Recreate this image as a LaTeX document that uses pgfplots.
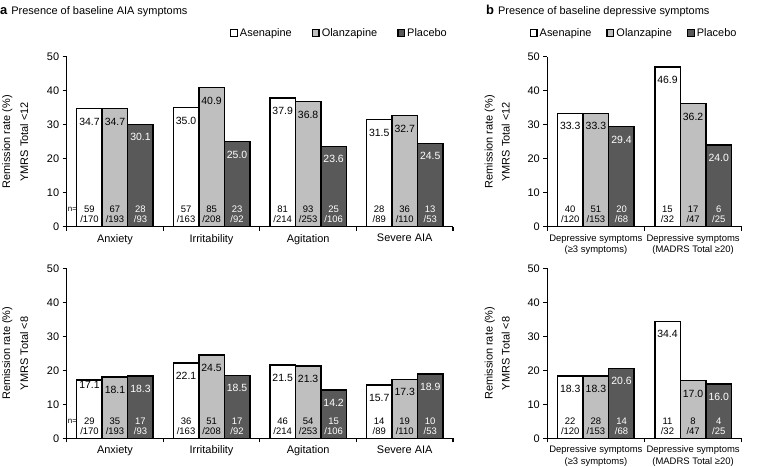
\documentclass[border=0pt]{standalone}
\usepackage{fontspec}
\setmainfont{Liberation Sans}
\usepackage{pgfplots}
\usepackage{pgfplotstable}
\pgfplotsset{compat=1.18}

\definecolor{olz}{HTML}{BFBFBF}
\definecolor{plc}{HTML}{595959}

% x = category, a/o/p = remission rate (%), an/ad etc = n / N
\pgfplotstableread{
x a o p an ad on od pn pd
0 34.7 34.7 30.1 59 170 67 193 28 93
1 35.0 40.9 25.0 57 163 85 208 23 92
2 37.9 36.8 23.6 81 214 93 253 25 106
3 31.5 32.7 24.5 28 89 36 110 13 53
}\tabTL
\pgfplotstableread{
x a o p an ad on od pn pd ao
0 17.1 18.1 18.3 29 170 35 193 17 93 2.5
1 22.1 24.5 18.5 36 163 51 208 17 92 0
2 21.5 21.3 14.2 46 214 54 253 15 106 0
3 15.7 17.3 18.9 14 89 19 110 10 53 0
}\tabBL
\pgfplotstableread{
x a o p an ad on od pn pd
0 33.3 33.3 29.4 40 120 51 153 20 68
1 46.9 36.2 24.0 15 32 17 47 6 25
}\tabTR
\pgfplotstableread{
x a o p an ad on od pn pd
0 18.3 18.3 20.6 22 120 28 153 14 68
1 34.4 17.0 16.0 11 32 8 47 4 25
}\tabBR

\pgfplotsset{
  /pgf/number format/assume math mode=true,
  panel/.style={
    scale only axis, height=170bp,
    ymin=0, ymax=50, ytick={0,10,20,30,40,50},
    xmin=-0.5,
    axis x line*=bottom, axis y line*=left,
    axis line style={-, line width=1.3bp},
    tick align=outside, major tick length=4bp, minor tick length=4bp,
    every tick/.style={black, line width=1.1bp},
    major x tick style={draw=none},
    tick label style={font=\fontsize{11}{13}\selectfont},
    xticklabel style={align=center, font=\fontsize{11}{12}\selectfont},
    ylabel style={align=center, font=\fontsize{11}{13}\selectfont},
    clip=false,
  },
  vbar/.style 2 args={ybar, bar width=25.5bp, bar shift=#1,
    fill=#2, draw=black, line width=1.5bp,
    legend image code/.code={\draw[fill=#2, draw=black, line width=1.3bp]
      (0bp,-3.3bp) rectangle (6.7bp,3.3bp);}},
  vlab/.style={draw=none, mark=none, forget plot, point meta=explicit,
    nodes near coords={\pgfmathprintnumber[fixed,fixed zerofill,precision=1]{\pgfplotspointmeta}},
    nodes near coords align={below},
    every node near coord/.append style={inner sep=0pt, yshift=-9bp,
      text=#1, font=\fontsize{10.5}{12}\selectfont}},
  nlab/.style={draw=none, mark=none, forget plot, point meta=explicit,
    nodes near coords={\pgfmathprintnumber{\pgfplotspointmeta}\\/\pgfmathprintnumber{\nden}},
    nodes near coords align={below},
    every node near coord/.append style={inner sep=0pt, align=center,
      text=#1, font=\fontsize{9.5}{10}\selectfont}},
  toplegend/.style={legend style={draw=none, fill=none, inner sep=0pt,
    legend columns=-1, at={(axis description cs:1,1)}, anchor=east,
    xshift=-4bp, yshift=23.7bp, font=\fontsize{11}{13}\selectfont,
    /tikz/every even column/.append style={column sep=#1}},
    legend cell align=left},
}

\begin{document}
\begin{tikzpicture}
\path[use as bounding box] (0,0) rectangle (757bp,467bp);

\node[anchor=base west, inner sep=0pt] at (0bp,452bp)
  {{\fontsize{13}{15}\selectfont\bfseries a}\hspace{4bp}{\fontsize{11}{13}\selectfont Presence of baseline AIA symptoms}};
\node[anchor=base west, inner sep=0pt] at (486bp,452bp)
  {{\fontsize{13}{15}\selectfont\bfseries b}\hspace{4bp}{\fontsize{11}{13}\selectfont Presence of baseline depressive symptoms}};

% top left
\begin{axis}[panel, at={(66.7bp,240.3bp)}, anchor=south west, width=386.3bp,
  xmax=3.5, xtick={0,1,2,3}, minor xtick={-0.5,0.5,1.5,2.5,3.5},
  xticklabels={Anxiety,Irritability,Agitation,Severe AIA},
  ylabel={Remission rate (\%)\\[5bp]YMRS Total <12}, ylabel shift=12bp,
  toplegend=18bp]
\addplot[vbar={-25.5bp}{white}] table[x=x,y=a] {\tabTL};
\addplot[vbar={0bp}{olz}] table[x=x,y=o] {\tabTL};
\addplot[vbar={25.5bp}{plc}] table[x=x,y=p] {\tabTL};
\legend{Asenapine,Olanzapine,Placebo}
\addplot[vlab=black] table[x expr=\thisrow{x}-0.264,y=a,meta=a] {\tabTL};
\addplot[vlab=black] table[x=x,y=o,meta=o] {\tabTL};
\addplot[vlab=white] table[x expr=\thisrow{x}+0.264,y=p,meta=p] {\tabTL};
\addplot[nlab=black, visualization depends on={\thisrow{ad}\as\nden}]
  table[x expr=\thisrow{x}-0.264,y expr=6.1,meta=an] {\tabTL};
\addplot[nlab=black, visualization depends on={\thisrow{od}\as\nden}]
  table[x=x,y expr=6.1,meta=on] {\tabTL};
\addplot[nlab=white, visualization depends on={\thisrow{pd}\as\nden}]
  table[x expr=\thisrow{x}+0.264,y expr=6.1,meta=pn] {\tabTL};
\node[font=\fontsize{8}{9}\selectfont, inner sep=0pt] at (axis cs:-0.44,5.1) {n=};
\end{axis}

% bottom left
\begin{axis}[panel, at={(66.7bp,28.7bp)}, anchor=south west, width=386.3bp,
  xmax=3.5, xtick={0,1,2,3}, minor xtick={-0.5,0.5,1.5,2.5,3.5},
  xticklabels={Anxiety,Irritability,Agitation,Severe AIA},
  ylabel={Remission rate (\%)\\[5bp]YMRS Total <8}, ylabel shift=12bp]
\addplot[vbar={-25.5bp}{white}] table[x=x,y=a] {\tabBL};
\addplot[vbar={0bp}{olz}] table[x=x,y=o] {\tabBL};
\addplot[vbar={25.5bp}{plc}] table[x=x,y=p] {\tabBL};
\addplot[vlab=black] table[x expr=\thisrow{x}-0.264,y expr=\thisrow{a}+\thisrow{ao},meta=a] {\tabBL};
\addplot[vlab=black] table[x=x,y=o,meta=o] {\tabBL};
\addplot[vlab=white] table[x expr=\thisrow{x}+0.264,y=p,meta=p] {\tabBL};
\addplot[nlab=black, visualization depends on={\thisrow{ad}\as\nden}]
  table[x expr=\thisrow{x}-0.264,y expr=6.1,meta=an] {\tabBL};
\addplot[nlab=black, visualization depends on={\thisrow{od}\as\nden}]
  table[x=x,y expr=6.1,meta=on] {\tabBL};
\addplot[nlab=white, visualization depends on={\thisrow{pd}\as\nden}]
  table[x expr=\thisrow{x}+0.264,y expr=6.1,meta=pn] {\tabBL};
\node[font=\fontsize{8}{9}\selectfont, inner sep=0pt] at (axis cs:-0.44,5.1) {n=};
\end{axis}

% top right
\begin{axis}[panel, at={(547.3bp,240.3bp)}, anchor=south west, width=194.4bp,
  xmax=1.5, xtick={0,1}, minor xtick={-0.5,0.5,1.5},
  xticklabel style={font=\fontsize{9.5}{11.5}\selectfont},
  xticklabels={{Depressive symptoms\\(≥3 symptoms)},{Depressive symptoms\\(MADRS Total ≥20)}},
  ylabel={Remission rate (\%)\\[4bp]YMRS Total <12}, ylabel shift=11bp,
  toplegend=13bp, legend style={xshift=1bp}]
\addplot[vbar={-25.5bp}{white}] table[x=x,y=a] {\tabTR};
\addplot[vbar={0bp}{olz}] table[x=x,y=o] {\tabTR};
\addplot[vbar={25.5bp}{plc}] table[x=x,y=p] {\tabTR};
\legend{Asenapine,Olanzapine,Placebo}
\addplot[vlab=black] table[x expr=\thisrow{x}-0.264,y=a,meta=a] {\tabTR};
\addplot[vlab=black] table[x=x,y=o,meta=o] {\tabTR};
\addplot[vlab=white] table[x expr=\thisrow{x}+0.264,y=p,meta=p] {\tabTR};
\addplot[nlab=black, visualization depends on={\thisrow{ad}\as\nden}]
  table[x expr=\thisrow{x}-0.264,y expr=6.1,meta=an] {\tabTR};
\addplot[nlab=black, visualization depends on={\thisrow{od}\as\nden}]
  table[x=x,y expr=6.1,meta=on] {\tabTR};
\addplot[nlab=white, visualization depends on={\thisrow{pd}\as\nden}]
  table[x expr=\thisrow{x}+0.264,y expr=6.1,meta=pn] {\tabTR};
\end{axis}

% bottom right
\begin{axis}[panel, at={(547.3bp,28.7bp)}, anchor=south west, width=194.4bp,
  xmax=1.5, xtick={0,1}, minor xtick={-0.5,0.5,1.5},
  xticklabel style={font=\fontsize{9.5}{11.5}\selectfont},
  xticklabels={{Depressive symptoms\\(≥3 symptoms)},{Depressive symptoms\\(MADRS Total ≥20)}},
  ylabel={Remission rate (\%)\\[4bp]YMRS Total <8}, ylabel shift=11bp]
\addplot[vbar={-25.5bp}{white}] table[x=x,y=a] {\tabBR};
\addplot[vbar={0bp}{olz}] table[x=x,y=o] {\tabBR};
\addplot[vbar={25.5bp}{plc}] table[x=x,y=p] {\tabBR};
\addplot[vlab=black] table[x expr=\thisrow{x}-0.264,y=a,meta=a] {\tabBR};
\addplot[vlab=black] table[x=x,y=o,meta=o] {\tabBR};
\addplot[vlab=white] table[x expr=\thisrow{x}+0.264,y=p,meta=p] {\tabBR};
\addplot[nlab=black, visualization depends on={\thisrow{ad}\as\nden}]
  table[x expr=\thisrow{x}-0.264,y expr=6.1,meta=an] {\tabBR};
\addplot[nlab=black, visualization depends on={\thisrow{od}\as\nden}]
  table[x=x,y expr=6.1,meta=on] {\tabBR};
\addplot[nlab=white, visualization depends on={\thisrow{pd}\as\nden}]
  table[x expr=\thisrow{x}+0.264,y expr=6.1,meta=pn] {\tabBR};
\end{axis}
\end{tikzpicture}
\end{document}
